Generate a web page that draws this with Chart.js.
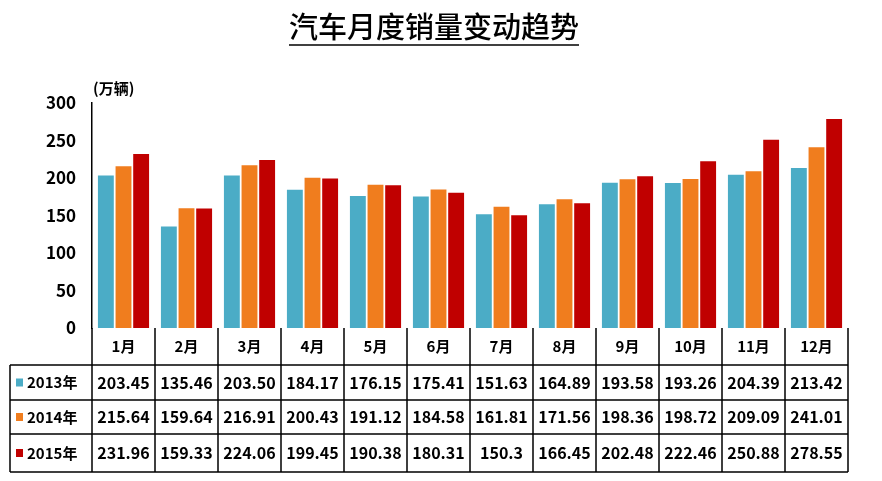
<!DOCTYPE html>
<html><head><meta charset="utf-8">
<script src="https://cdn.jsdelivr.net/npm/chart.js@4/dist/chart.umd.min.js"></script>
<style>html,body{margin:0;padding:0;background:#fff}#w{width:882px;height:481px}</style>
</head><body><div id="w"><canvas id="c"></canvas></div>
<script>
const months = ['1月','2月','3月','4月','5月','6月','7月','8月','9月','10月','11月','12月'];
const seriesNames = ['2013年','2014年','2015年'];
const s2013 = [203.45,135.46,203.50,184.17,176.15,175.41,151.63,164.89,193.58,193.26,204.39,213.42];
const s2014 = [215.64,159.64,216.91,200.43,191.12,184.58,161.81,171.56,198.36,198.72,209.09,241.01];
const s2015 = [231.96,159.33,224.06,199.45,190.38,180.31,150.3,166.45,202.48,222.46,250.88,278.55];
const labels2013 = ['203.45','135.46','203.50','184.17','176.15','175.41','151.63','164.89','193.58','193.26','204.39','213.42'];
const labels2014 = ['215.64','159.64','216.91','200.43','191.12','184.58','161.81','171.56','198.36','198.72','209.09','241.01'];
const labels2015 = ['231.96','159.33','224.06','199.45','190.38','180.31','150.3','166.45','202.48','222.46','250.88','278.55'];
const yTicks = [0,50,100,150,200,250,300];
const colors = ['#4bacc6','#f07d1e','#c00000'];
const F = '"Noto Sans CJK SC", sans-serif';

const tablePlugin = {
  id:'tbl',
  afterDraw(chart){
    const ctx = chart.ctx, x = chart.scales.x, a = chart.chartArea;
    const L = 10, R = a.right, rows = [a.bottom, 365, 400, 434, 472];
    const n = months.length, step = (a.right - a.left)/n;
    ctx.save();
    ctx.strokeStyle = '#000'; ctx.lineWidth = 1.5;
    ctx.beginPath();
    for (let i=1;i<rows.length;i++){ ctx.moveTo(L, rows[i]); ctx.lineTo(R, rows[i]); }
    ctx.moveTo(L, rows[1]); ctx.lineTo(L, rows[4]);
    for (let i=0;i<=n;i++){ const xx = a.left + i*step; ctx.moveTo(xx, a.bottom); ctx.lineTo(xx, rows[4]); }
    ctx.stroke();
    ctx.fillStyle='#000'; ctx.textAlign='center'; ctx.textBaseline='middle';
    ctx.font = 'bold 15px '+F;
    months.forEach((m,i)=>ctx.fillText(m, x.getPixelForValue(i), (rows[0]+rows[1])/2));
    const lbls = [labels2013, labels2014, labels2015];
    ctx.font = 'bold 16px '+F;
    lbls.forEach((arr,r)=>{
      const cy = (rows[r+1]+rows[r+2])/2;
      arr.forEach((v,i)=>ctx.fillText(v, x.getPixelForValue(i), cy));
      ctx.fillStyle = colors[r]; ctx.fillRect(16, cy-4, 7, 8);
      ctx.fillStyle='#000'; ctx.textAlign='left';
      ctx.font = 'bold 15px '+F;
      ctx.fillText(seriesNames[r], 27, cy);
      ctx.textAlign='center'; ctx.font = 'bold 16px '+F;
    });
    ctx.font = '500 29px '+F; ctx.textAlign='center';
    const t = '汽车月度销量变动趋势', tw = ctx.measureText(t).width;
    ctx.fillText(t, 434, 27);
    ctx.beginPath(); ctx.lineWidth=1.5; ctx.moveTo(434-tw/2, 45); ctx.lineTo(434+tw/2, 45); ctx.stroke();
    ctx.font = 'bold 15px '+F; ctx.textAlign='left';
    ctx.fillText('(万辆)', 93, 88);
    ctx.restore();
  }
};

new Chart(document.getElementById('c'), {
  type:'bar',
  data:{ labels: months, datasets:[
    {label:seriesNames[0], data:s2013, backgroundColor:colors[0]},
    {label:seriesNames[1], data:s2014, backgroundColor:colors[1]},
    {label:seriesNames[2], data:s2015, backgroundColor:colors[2]}
  ]},
  options:{
    responsive:true, maintainAspectRatio:false, animation:false,
    categoryPercentage:0.84, barPercentage:0.9,
    layout:{padding:{top:103, right:34, bottom:153, left:0}},
    plugins:{legend:{display:false}, tooltip:{enabled:false}},
    scales:{
      x:{display:false},
      y:{min:0,max:300,
        afterFit(s){ s.width = 92; },
        afterBuildTicks(s){ s.ticks = yTicks.map(v=>({value:v})); },
        grid:{display:false},
        border:{color:'#000', width:1.5},
        ticks:{color:'#000', font:{family:F, size:17, weight:'bold'}, padding:8}
      }
    }
  },
  plugins:[tablePlugin]
});
</script></body></html>
